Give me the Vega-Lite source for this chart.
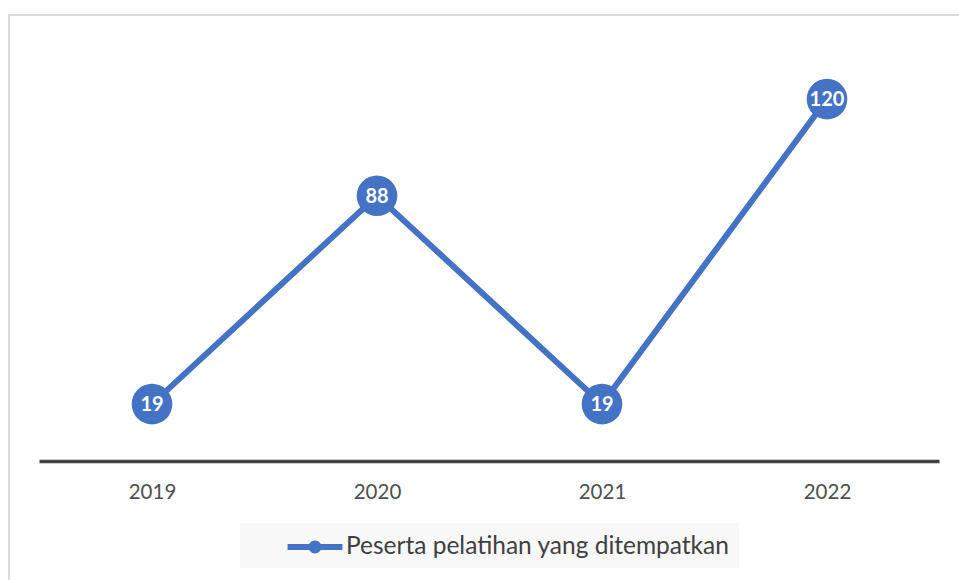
{
  "$schema": "https://vega.github.io/schema/vega-lite/v6.json",
  "width": 955,
  "height": 570,
  "autosize": {"type": "none"},
  "padding": {"left": 9, "top": 15, "right": 0, "bottom": 0},
  "background": "white",
  "config": {
    "view": {"stroke": "#d0d0d0", "strokeWidth": 1.5},
    "font": "Lato"
  },
  "data": {
    "values": [
      {"tahun": 2019, "nilai": 19, "seri": "Peserta pelatihan yang ditempatkan"},
      {"tahun": 2020, "nilai": 88, "seri": "Peserta pelatihan yang ditempatkan"},
      {"tahun": 2021, "nilai": 19, "seri": "Peserta pelatihan yang ditempatkan"},
      {"tahun": 2022, "nilai": 120, "seri": "Peserta pelatihan yang ditempatkan"}
    ]
  },
  "encoding": {
    "x": {
      "field": "tahun",
      "type": "quantitative",
      "scale": {"domain": [2018.3644, 2022.6089], "nice": false, "zero": false},
      "axis": {
        "values": [2019, 2020, 2021, 2022],
        "format": "d",
        "title": null,
        "grid": false,
        "domain": false,
        "ticks": false,
        "tickSize": 0,
        "labelPadding": 0,
        "labelBaseline": "middle",
        "offset": -93,
        "labelFont": "Lato",
        "labelFontSize": 20.5,
        "labelColor": "#505050"
      }
    },
    "y": {
      "field": "nilai",
      "type": "quantitative",
      "scale": {"domain": [-40.9, 147.85], "nice": false, "zero": false},
      "axis": null
    }
  },
  "layer": [
    {
      "data": {"values": [{"a": 2018.5, "b": 2022.5, "v": 0}]},
      "mark": {"type": "rule", "stroke": "#404040", "strokeWidth": 3.5},
      "encoding": {
        "x": {"field": "a", "type": "quantitative"},
        "x2": {"field": "b"},
        "y": {"field": "v", "type": "quantitative"}
      }
    },
    {
      "mark": {"type": "line", "stroke": "#4472C4", "strokeWidth": 6}
    },
    {
      "mark": {"type": "point", "filled": true, "size": 1650, "opacity": 1, "shape": "circle"},
      "encoding": {
        "color": {
          "field": "seri",
          "type": "nominal",
          "scale": {"range": ["#4472C4"]},
          "legend": {
            "title": null,
            "orient": "none",
            "legendX": 231,
            "legendY": 508,
            "padding": 9,
            "fillColor": "#f8f8f8",
            "symbolType": "M-1.83,-0.2H1.83V0.2H-1.83Z M0.43,0A0.43,0.43,0,1,1,-0.43,0A0.43,0.43,0,1,1,0.43,0Z",
            "symbolSize": 900,
            "symbolStrokeWidth": 0,
            "symbolFillColor": "#4472C4",
            "symbolOpacity": 1,
            "symbolOffset": 51,
            "labelOffset": 16,
            "labelFont": "Lato",
            "labelFontSize": 24.5,
            "labelColor": "#404040",
            "labelLimit": 600
          }
        }
      }
    },
    {
      "mark": {"type": "text", "color": "white", "fontWeight": "bold", "fontSize": 20, "font": "Lato", "baseline": "middle", "align": "center", "dy": 1},
      "encoding": {"text": {"field": "nilai", "type": "quantitative"}}
    }
  ]
}
